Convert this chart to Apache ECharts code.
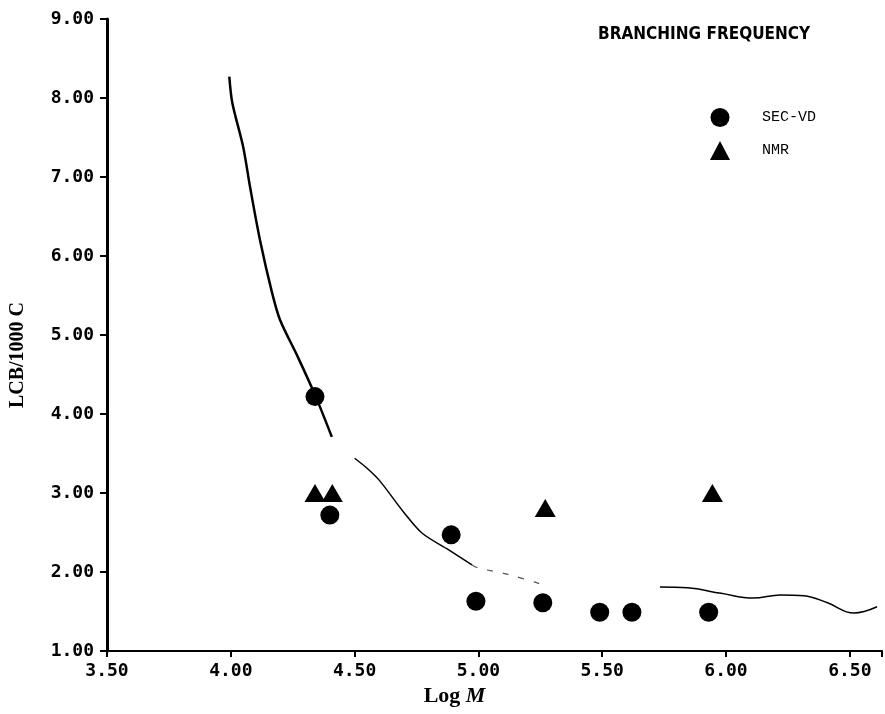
<!DOCTYPE html>
<html>
<head>
<meta charset="utf-8">
<script src="https://cdn.jsdelivr.net/npm/echarts@6/dist/echarts.min.js"></script>
<style>html,body{margin:0;padding:0;background:#fff;}#chart{width:885px;height:714px;}</style>
</head>
<body>
<div id="chart"></div>
<script>
// SEC-VD points (Log M, LCB/1000 C)
const secvdLogM = [4.34, 4.40, 4.89, 4.99, 5.26, 5.49, 5.62, 5.93];
const secvdLCB  = [4.22, 2.72, 2.47, 1.63, 1.61, 1.49, 1.49, 1.49];
// NMR points
const nmrLogM = [4.34, 4.41, 5.27, 5.945];
const nmrLCB  = [3.00, 3.00, 2.81, 3.00];
// Branching-frequency curve, segments
const curveALogM = [3.994, 4.006, 4.05, 4.078, 4.118, 4.167, 4.199, 4.271, 4.343, 4.408];
const curveALCB  = [8.27, 7.94, 7.38, 6.87, 6.20, 5.53, 5.19, 4.72, 4.22, 3.71];
const curveBLogM = [4.50, 4.548, 4.60, 4.70, 4.773, 4.88, 4.974];
const curveBLCB  = [3.44, 3.32, 3.16, 2.75, 2.49, 2.28, 2.09];
const curveFLogM = [4.974, 5.00, 5.12, 5.24, 5.28];
const curveFLCB  = [2.09, 2.05, 1.97, 1.86, 1.84];
const curveCLogM = [5.733, 5.845, 5.98, 6.11, 6.22, 6.315, 6.41, 6.516, 6.61];
const curveCLCB  = [1.81, 1.80, 1.73, 1.67, 1.71, 1.70, 1.61, 1.48, 1.56];
const xTicks = [3.5, 4.0, 4.5, 5.0, 5.5, 6.0, 6.5];
const yTicks = [1, 2, 3, 4, 5, 6, 7, 8, 9];

const zip = (a, b) => a.map((v, i) => [v, b[i]]);
const labelFont = {fontFamily: 'DejaVu Sans Mono', fontWeight: 'bold', fontSize: 18, color: '#000'};

const chart = echarts.init(document.getElementById('chart'), null, {renderer: 'canvas'});
chart.setOption({
  animation: false,
  backgroundColor: '#fff',
  title: {
    text: 'BRANCHING FREQUENCY',
    left: 593, top: 21,
    textStyle: {fontFamily: 'DejaVu Sans Condensed, Liberation Sans Narrow, sans-serif', fontWeight: 'bold', fontSize: 17, color: '#000'}
  },
  legend: {
    data: ['SEC-VD', 'NMR'],
    orient: 'vertical',
    left: 705, top: 103,
    itemWidth: 20, itemHeight: 19, itemGap: 14,
    itemStyle: {opacity: 1, color: '#000'},
    textStyle: {fontFamily: 'Liberation Mono', fontSize: 15, color: '#000', padding: [0, 0, 0, 27]}
  },
  grid: {left: 107, right: 0, top: 19, bottom: 63, containLabel: false},
  xAxis: {
    type: 'value', min: 3.5, max: 6.63, interval: 0.5,
    name: '{a|Log }{b|M}', nameLocation: 'middle', nameGap: 25,
    nameTextStyle: {padding: [0, 80, 0, 0], rich: {
      a: {fontFamily: 'Liberation Serif', fontWeight: 'bold', fontSize: 22, color: '#000'},
      b: {fontFamily: 'Liberation Serif', fontWeight: 'bold', fontStyle: 'italic', fontSize: 22, color: '#000'}
    }},
    axisLine: {show: true, lineStyle: {color: '#000', width: 2}},
    axisTick: {show: true, length: 6, lineStyle: {color: '#000', width: 2}},
    axisLabel: Object.assign({margin: 11, formatter: v => xTicks.includes(v) ? v.toFixed(2) : ''}, labelFont),
    splitLine: {show: false}
  },
  yAxis: {
    type: 'value', min: 1, max: 9, interval: 1,
    name: 'LCB/1000 C', nameLocation: 'middle', nameGap: 79,
    nameTextStyle: {fontFamily: 'Liberation Serif', fontWeight: 'bold', fontSize: 20, color: '#000', padding: [0, 40, 0, 0]},
    axisLine: {show: true, lineStyle: {color: '#000', width: 3}},
    axisTick: {show: true, length: 7, lineStyle: {color: '#000', width: 2}},
    axisLabel: Object.assign({margin: 13, formatter: v => yTicks.includes(v) ? v.toFixed(2) : ''}, labelFont),
    splitLine: {show: false}
  },
  series: [
    {name: 'curveA', type: 'line', data: zip(curveALogM, curveALCB), smooth: 0.3, symbol: 'none', lineStyle: {color: '#000', width: 2.5}, z: 1},
    {name: 'curveB', type: 'line', data: zip(curveBLogM, curveBLCB), smooth: 0.3, symbol: 'none', lineStyle: {color: '#000', width: 1.5}, z: 1},
    {name: 'curveF', type: 'line', data: zip(curveFLogM, curveFLCB), smooth: 0.3, symbol: 'none', lineStyle: {color: '#555', width: 1.2, type: [6, 10]}, z: 1},
    {name: 'curveC', type: 'line', data: zip(curveCLogM, curveCLCB), smooth: 0.4, symbol: 'none', lineStyle: {color: '#000', width: 1.5}, z: 1},
    {name: 'SEC-VD', type: 'scatter', data: zip(secvdLogM, secvdLCB), symbol: 'circle', symbolSize: 19, itemStyle: {color: '#000', opacity: 1}, z: 3},
    {name: 'NMR', type: 'scatter', data: zip(nmrLogM, nmrLCB), symbol: 'triangle', symbolSize: [21, 18], itemStyle: {color: '#000', opacity: 1}, z: 3}
  ]
});
</script>
</body>
</html>
